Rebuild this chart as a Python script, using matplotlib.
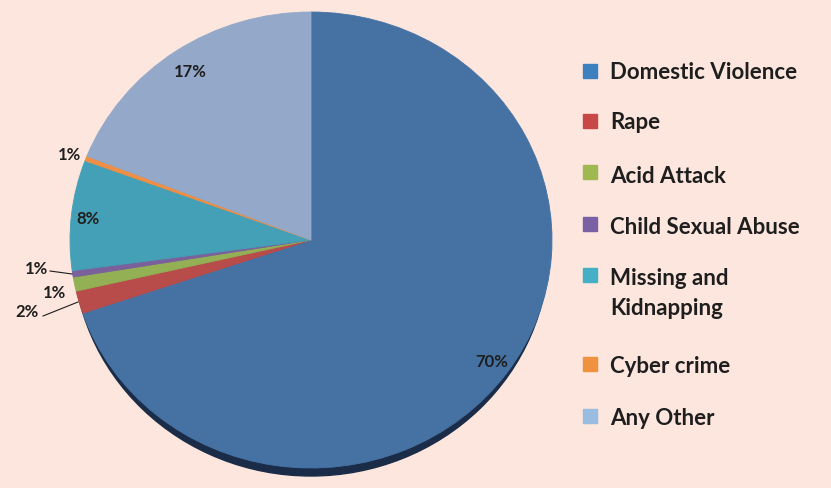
import matplotlib
matplotlib.use("Agg")
import matplotlib.pyplot as plt
from matplotlib.patches import Ellipse, Rectangle
from matplotlib.transforms import Affine2D

# ─────────────────────────────────────────────
#  DATOS
# ─────────────────────────────────────────────
categorias = ["Domestic Violence", "Rape", "Acid Attack", "Child Sexual Abuse",
              "Missing and\nKidnapping", "Cyber crime", "Any Other"]
valores = [69.8, 1.6, 1.0, 0.45, 7.8, 0.35, 19.0]
etiquetas = ["70%", "2%", "1%", "1%", "8%", "1%", "17%"]

# ─────────────────────────────────────────────
#  ESTILO
# ─────────────────────────────────────────────
FONDO = "#FCE6DD"
TEXTO = "#1E1E1E"
SOMBRA = "#1A2C47"
COL_PIE = ["#4572A3", "#B84C4A", "#93B055", "#7B619C", "#44A0B6", "#EE8F45", "#94A8CA"]
COL_LEY = ["#3D80C0", "#C84848", "#A0B850", "#7A60A5", "#45AFC5", "#F0913F", "#98BDE0"]

W, H = 831, 489
CX, CY = 311, 241          # centro del pastel (px)
RX, RY = 241, 228          # radios (px)

fig = plt.figure(figsize=(W / 100, H / 100), dpi=100, facecolor=FONDO)
ax = fig.add_axes([0, 0, 1, 1])

def px(x, y):
    return x / W, 1 - y / H

# sombra inferior
ax.add_patch(Ellipse((CX, H - CY - 8), 2 * RX - 6, 2 * RY, color=SOMBRA, zorder=1))

wedges, _ = ax.pie(valores, colors=COL_PIE, startangle=90, counterclock=False,
                   radius=1, center=(0, 0), frame=True,
                   wedgeprops=dict(linewidth=0.6))
tr = Affine2D().scale(RX, RY).translate(CX, H - CY) + ax.transData
for w, c in zip(wedges, COL_PIE):
    w.set_edgecolor(c)
    w.set_transform(tr)
    w.set_zorder(2)
ax.set_xlim(0, W)
ax.set_ylim(0, H)
ax.axis("off")

# etiquetas de porcentaje
pos_etq = [(492, 362), (27, 312), (54, 293), (36, 269), (88, 219), (69, 155), (190, 72)]
for (x, y), t in zip(pos_etq, etiquetas):
    fig.text(*px(x, y), t, ha="center", va="center", fontsize=12,
             fontweight="bold", color=TEXTO, family="Lato")

# líneas guía
fig.add_artist(plt.Line2D([50 / W, 72 / W], [1 - 272 / H, 1 - 275 / H],
                          color=TEXTO, lw=0.8))
fig.add_artist(plt.Line2D([43 / W, 78 / W], [1 - 317 / H, 1 - 303 / H],
                          color=TEXTO, lw=0.8))

# leyenda manual
marcas_y = [71.5, 121.5, 173, 224.5, 276, 365, 416.5]
base_y = [79, 129, 183, 234, 285, 373, 425]
for cat, c, my, by in zip(categorias, COL_LEY, marcas_y, base_y):
    fig.add_artist(Rectangle(px(583, my + 7), 14 / W, 14 / H, color=c,
                             transform=fig.transFigure))
    for i, linea in enumerate(cat.split("\n")):
        fig.text(*px(610, by + 30 * i), linea, ha="left", va="baseline",
                 fontsize=16, fontweight="bold", color=TEXTO, family="Lato")

plt.savefig("out.png", dpi=100, facecolor=FONDO)
